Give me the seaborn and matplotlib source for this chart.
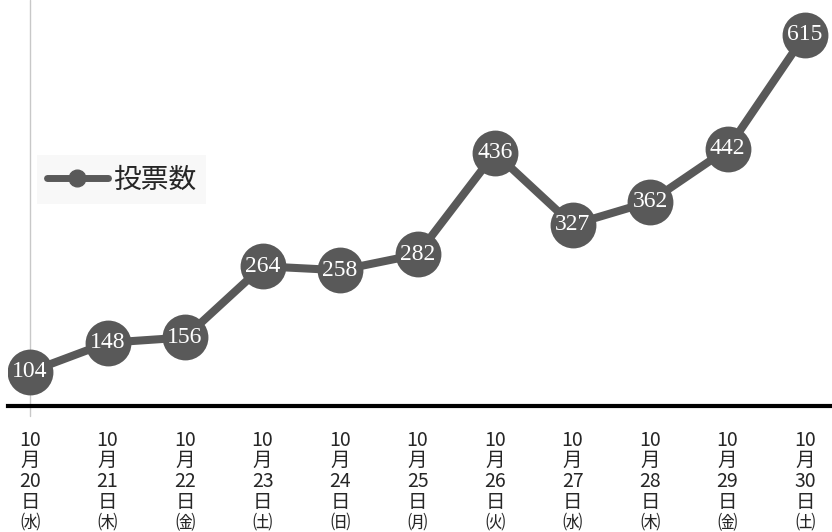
import matplotlib
matplotlib.use("Agg")
import matplotlib.pyplot as plt
from matplotlib.lines import Line2D
import seaborn as sns
import pandas as pd

dias = ["20", "21", "22", "23", "24", "25", "26", "27", "28", "29", "30"]
semana = ["㈬", "㈭", "㈮", "㈯", "㈰", "㈪", "㈫", "㈬", "㈭", "㈮", "㈯"]
votos = [104, 148, 156, 264, 258, 282, 436, 327, 362, 442, 615]

cor = "#595959"

sns.set_style("white")
plt.rcParams["font.family"] = ["Noto Sans CJK JP", "DejaVu Sans"]

df = pd.DataFrame({"x": range(len(votos)), "投票数": votos})

fig = plt.figure(figsize=(8.32, 5.32), dpi=100)
ax = fig.add_axes([8 / 832, 1 - 406 / 532, 824 / 832, 406 / 532])

sns.lineplot(data=df, x="x", y="投票数", ax=ax, color=cor, linewidth=5.8,
             marker="o", markersize=33, markeredgewidth=0, legend=False)

for i, v in enumerate(votos):
    ax.text(i, v, str(v), ha="center", va="center", color="white",
            fontsize=17, family="Liberation Serif")

ax.set_xlim(-0.284, 10.348)
ax.set_ylim(52, 668)

ax.axvline(0, ymin=-0.025, ymax=1, color="#c8c8c8", linewidth=1, clip_on=False, zorder=0)

for s in ["top", "right", "left"]:
    ax.spines[s].set_visible(False)
ax.spines["bottom"].set_linewidth(3)
ax.spines["bottom"].set_color("black")

ax.set_yticks([])
ax.set_xticks(range(len(dias)))
ax.set_xticklabels([f"10\n月\n{d}\n日\n{w}" for d, w in zip(dias, semana)],
                   fontsize=14, linespacing=0.98, va="top")
ax.tick_params(axis="x", length=0, pad=17)
ax.set_xlabel("")
ax.set_ylabel("")

h = Line2D([], [], color=cor, linewidth=5, marker="o", markersize=12)
leg = fig.legend([h], ["投票数"], loc="upper left", bbox_to_anchor=(37 / 832, 1 - 155 / 532),
                 fontsize=20, frameon=True, handlelength=2.2, handletextpad=0.2,
                 borderpad=0.35, borderaxespad=0, fancybox=False)
leg.get_frame().set_facecolor("#f7f7f7")
leg.get_frame().set_edgecolor("none")

fig.savefig("out.png", dpi=100)
